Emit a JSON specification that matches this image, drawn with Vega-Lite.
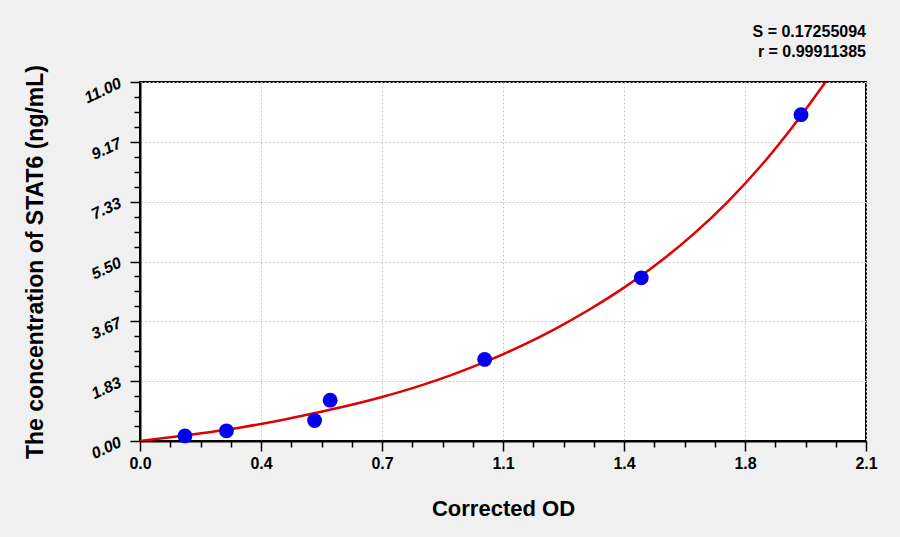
{
  "$schema": "https://vega.github.io/schema/vega-lite/v6.json",
  "width": 726,
  "height": 359,
  "autosize": "none",
  "padding": {"left": 140, "top": 82, "right": 34, "bottom": 96},
  "background": "#f0f0f0",
  "title": {
    "text": "S = 0.17255094",
    "subtitle": "r = 0.99911385",
    "anchor": "end",
    "frame": "group",
    "font": "Liberation Sans",
    "fontSize": 16,
    "fontWeight": "bold",
    "color": "black",
    "subtitleFont": "Liberation Sans",
    "subtitleFontSize": 16,
    "subtitleFontWeight": "bold",
    "subtitleColor": "black",
    "subtitlePadding": 4,
    "offset": 5
  },
  "config": {
    "view": {"fill": "white", "stroke": "black", "strokeWidth": 2},
    "axis": {
      "domainColor": "black",
      "domainWidth": 2,
      "tickColor": "black",
      "tickWidth": 1.5,
      "gridColor": "#c8c8c8",
      "gridDash": [2, 2],
      "labelFont": "Liberation Sans",
      "labelFontWeight": "bold",
      "labelColor": "black",
      "labelOverlap": false,
      "titleFont": "Liberation Sans",
      "titleFontWeight": "bold",
      "titleColor": "black"
    }
  },
  "datasets": {
    "curve": [
      {"od": 0.0, "conc": 0.0},
      {"od": 0.1, "conc": 0.13},
      {"od": 0.2, "conc": 0.27},
      {"od": 0.3, "conc": 0.43},
      {"od": 0.4, "conc": 0.62},
      {"od": 0.5, "conc": 0.84},
      {"od": 0.6, "conc": 1.08},
      {"od": 0.7, "conc": 1.35},
      {"od": 0.8, "conc": 1.66},
      {"od": 0.9, "conc": 2.02},
      {"od": 1.0, "conc": 2.43},
      {"od": 1.1, "conc": 2.9},
      {"od": 1.2, "conc": 3.43},
      {"od": 1.3, "conc": 4.03},
      {"od": 1.4, "conc": 4.7},
      {"od": 1.5, "conc": 5.46},
      {"od": 1.6, "conc": 6.33},
      {"od": 1.7, "conc": 7.33},
      {"od": 1.8, "conc": 8.48},
      {"od": 1.9, "conc": 9.8},
      {"od": 1.985, "conc": 11.03}
    ],
    "standards": [
      {"od": 0.13, "conc": 0.156},
      {"od": 0.25, "conc": 0.312},
      {"od": 0.505, "conc": 0.625},
      {"od": 0.55, "conc": 1.25},
      {"od": 0.997, "conc": 2.5},
      {"od": 1.45, "conc": 5.0},
      {"od": 1.912, "conc": 10.0}
    ]
  },
  "encoding": {
    "x": {
      "field": "od",
      "type": "quantitative",
      "title": "Corrected OD",
      "scale": {"domain": [0, 2.1], "nice": false, "zero": false},
      "axis": {
        "values": [0, 0.0875, 0.175, 0.2625, 0.35, 0.4375, 0.525, 0.6125, 0.7, 0.7875, 0.875, 0.9625, 1.05, 1.1375, 1.225, 1.3125, 1.4, 1.4875, 1.575, 1.6625, 1.75, 1.8375, 1.925, 2.0125, 2.1],
        "labelExpr": "abs(datum.value/0.35 - round(datum.value/0.35)) < 0.01 ? format(round(datum.value*10 + 0.001)/10, '.1f') : ''",
        "labelFlush": false,
        "labelFontSize": 16,
        "labelPadding": 4,
        "tickSize": {"condition": {"test": "abs(datum.value/0.35 - round(datum.value/0.35)) < 0.01", "value": 10}, "value": 6},
        "gridOpacity": {"condition": {"test": "abs(datum.value/0.35 - round(datum.value/0.35)) < 0.01", "value": 1}, "value": 0},
        "titleFontSize": 22,
        "titlePadding": 27
      }
    },
    "y": {
      "field": "conc",
      "type": "quantitative",
      "title": "The concentration of STAT6 (ng/mL)",
      "scale": {"domain": [0, 11], "nice": false, "zero": false},
      "axis": {
        "values": [0, 0.458333, 0.916667, 1.375, 1.833333, 2.291667, 2.75, 3.208333, 3.666667, 4.125, 4.583333, 5.041667, 5.5, 5.958333, 6.416667, 6.875, 7.333333, 7.791667, 8.25, 8.708333, 9.166667, 9.625, 10.083333, 10.541667, 11],
        "labelExpr": "abs(datum.value*6/11 - round(datum.value*6/11)) < 0.01 ? format(datum.value, '.2f') : ''",
        "labelAngle": -25,
        "labelFontSize": 16,
        "labelFontStyle": "italic",
        "labelPadding": 10,
        "tickSize": {"condition": {"test": "abs(datum.value*6/11 - round(datum.value*6/11)) < 0.01", "value": 10}, "value": 6},
        "gridOpacity": {"condition": {"test": "abs(datum.value*6/11 - round(datum.value*6/11)) < 0.01", "value": 1}, "value": 0},
        "titleFontSize": 23,
        "titlePadding": 34
      }
    }
  },
  "layer": [
    {
      "data": {"name": "curve"},
      "mark": {"type": "line", "color": "#e00000", "strokeWidth": 2.5, "interpolate": "monotone", "clip": true}
    },
    {
      "data": {"name": "standards"},
      "mark": {"type": "circle", "color": "#0000ee", "opacity": 1, "size": 220}
    }
  ]
}
